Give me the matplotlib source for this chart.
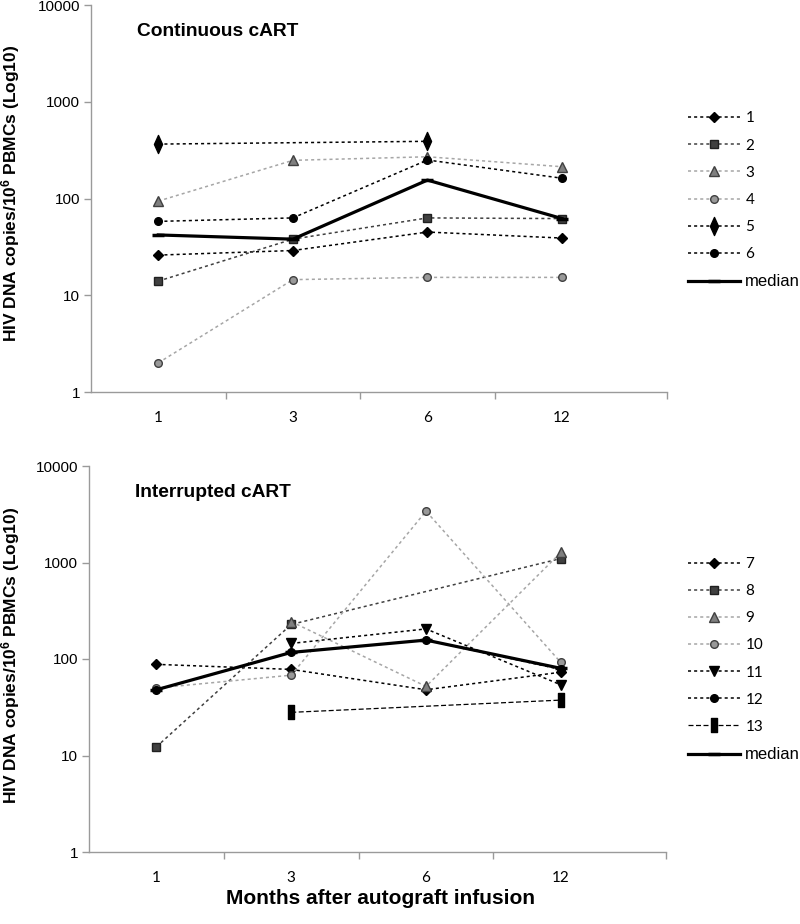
import numpy as np
import matplotlib
matplotlib.use("Agg")
import matplotlib.pyplot as plt
from matplotlib.path import Path

nan = np.nan
months = ["1", "3", "6", "12"]
y_ticks = [1, 10, 100, 1000, 10000]
y_tick_labels = ["1", "10", "100", "1000", "10000"]

# Continuous cART
cont_1 = [26, 29, 45, 39]
cont_2 = [14, 38, 63, 62]
cont_3 = [94, 248, 270, 213]
cont_4 = [2, 14.5, 15.3, 15.3]
cont_5 = [365, nan, 390, nan]
cont_6 = [58, 63, 250, 162]
cont_median = [42, 38, 155, 62]

# Interrupted cART
int_7 = [88, 78, 48, 73]
int_8 = [12.3, 228, nan, 1100]
int_9 = [nan, 244, 52, 1270]
int_10 = [50, 68, 3400, 92]
int_11 = [nan, 145, 205, 54]
int_12 = [48, 117, 157, 78]
int_13 = [nan, 28, nan, 37.5]
int_median = [48, 117, 157, 80]

plt.rcParams['mathtext.fontset'] = 'custom'
plt.rcParams['mathtext.rm'] = 'Liberation Sans:bold'
plt.rcParams['mathtext.default'] = 'rm'

W, H = 800, 924
fig = plt.figure(figsize=(W / 100, H / 100), dpi=100)

big_diamond = Path([(0, 0.5), (0.225, 0), (0, -0.5), (-0.225, 0), (0, 0.5)],
                   [Path.MOVETO, Path.LINETO, Path.LINETO, Path.LINETO, Path.CLOSEPOLY])
tall_rect = Path([(-0.25, -0.5), (0.25, -0.5), (0.25, 0.5), (-0.25, 0.5), (-0.25, -0.5)],
                 [Path.MOVETO, Path.LINETO, Path.LINETO, Path.LINETO, Path.CLOSEPOLY])

DOT = (0, (2, 2))
LGREY = "#a6a6a6"
DGREY = "#404040"

styles = {
    "diamond": dict(marker="D", ms=5.2, mfc="black", mec="black", color="black", ls=DOT, lw=1.1),
    "square": dict(marker="s", ms=5.5, mfc=DGREY, mec="#202020", color=DGREY, ls=DOT, lw=1.1),
    "triangle": dict(marker="^", ms=6.5, mfc="#7f7f7f", mec=DGREY, color=LGREY, ls=DOT, lw=1.1),
    "circle_l": dict(marker="o", ms=5.5, mfc="#999999", mec=DGREY, color=LGREY, ls=DOT, lw=1.1),
    "bigdiamond": dict(marker=big_diamond, ms=13, mfc="black", mec="black", color="black", ls=DOT, lw=1.1),
    "circle_d": dict(marker="o", ms=5.5, mfc="black", mec="black", color="black", ls=DOT, lw=1.1),
    "vtri": dict(marker="v", ms=6.5, mfc="black", mec="black", color="black", ls=DOT, lw=1.1),
    "rect": dict(marker=tall_rect, ms=10, mfc="black", mec="black", color="black", ls=(0, (4, 2)), lw=0.9),
    "median": dict(marker="_", ms=8, mew=2.5, mec="black", color="black", ls="-", lw=2.3),
}

top_series = [("1", cont_1, "diamond"), ("2", cont_2, "square"), ("3", cont_3, "triangle"),
              ("4", cont_4, "circle_l"), ("5", cont_5, "bigdiamond"), ("6", cont_6, "circle_d"),
              ("median", cont_median, "median")]
bot_series = [("7", int_7, "diamond"), ("8", int_8, "square"), ("9", int_9, "triangle"),
              ("10", int_10, "circle_l"), ("11", int_11, "vtri"), ("12", int_12, "circle_d"),
              ("13", int_13, "rect"), ("median", int_median, "median")]

SPINE = "#9a9a9a"


def make_panel(rect, series, title, legend_top_px):
    ax = fig.add_axes(rect)
    x = np.arange(len(months))
    handles = []
    for label, vals, st in series:
        v = np.array(vals, dtype=float)
        m = ~np.isnan(v)
        ln, = ax.plot(x[m], v[m], label=label, **styles[st])
        handles.append(ln)
    ax.set_yscale("log")
    ax.set_ylim(1, 10000)
    xmax = 3.78
    ax.set_xlim(-0.5, xmax)
    ax.set_yticks(y_ticks)
    ax.set_yticklabels(y_tick_labels, fontfamily="Liberation Sans", fontsize=11)
    ax.yaxis.set_minor_locator(matplotlib.ticker.NullLocator())
    ax.set_xticks(x)
    ax.set_xticklabels(months, fontfamily="Lato", fontsize=11)
    ax.set_xticks([0.5, 1.5, 2.5, xmax], minor=True)
    ax.tick_params(axis="x", which="major", length=0, pad=14)
    ax.tick_params(axis="x", which="minor", length=5, color=SPINE, width=1)
    ax.tick_params(axis="y", which="major", length=5, color=SPINE, width=1, pad=3)
    for s in ["top", "right"]:
        ax.spines[s].set_visible(False)
    for s in ["left", "bottom"]:
        ax.spines[s].set_color(SPINE)
        ax.spines[s].set_linewidth(1)
    ax.text(0.08, 0.932, title, transform=ax.transAxes, fontfamily="Liberation Sans",
            fontweight="bold", fontsize=13.8, ha="left", va="center")
    leg = ax.legend(handles=handles, loc="upper left",
                    bbox_to_anchor=(688 / W, 1 - legend_top_px / H),
                    bbox_transform=fig.transFigure, frameon=False, numpoints=1,
                    handlelength=3.4, handletextpad=0.35, borderpad=0, borderaxespad=0,
                    labelspacing=0.86, prop={"family": "Lato", "size": 11})
    for t in leg.get_texts():
        if t.get_text() == "median":
            t.set_fontfamily("Liberation Sans")
            t.set_fontsize(12)
    return ax


ax1 = make_panel([91 / W, 1 - 392 / H, (667 - 91) / W, (392 - 5) / H], top_series,
                 "Continuous cART", 111.5)
ax2 = make_panel([89 / W, 1 - 852 / H, (666 - 89) / W, (852 - 466) / H], bot_series,
                 "Interrupted cART", 557)

ylabel = "HIV DNA copies/10$^{6}$ PBMCs (Log10)"
fig.text(11 / W, 1 - 193 / H, ylabel, rotation=90, ha="center", va="center",
         fontfamily="Liberation Sans", fontweight="bold", fontsize=12.5)
fig.text(11 / W, 1 - 655 / H, ylabel, rotation=90, ha="center", va="center",
         fontfamily="Liberation Sans", fontweight="bold", fontsize=12.5)
fig.text(381 / W, 1 - 898 / H, "Months after autograft infusion", ha="center", va="center",
         fontfamily="Liberation Sans", fontweight="bold", fontsize=15)

fig.savefig("out.png", dpi=100)
